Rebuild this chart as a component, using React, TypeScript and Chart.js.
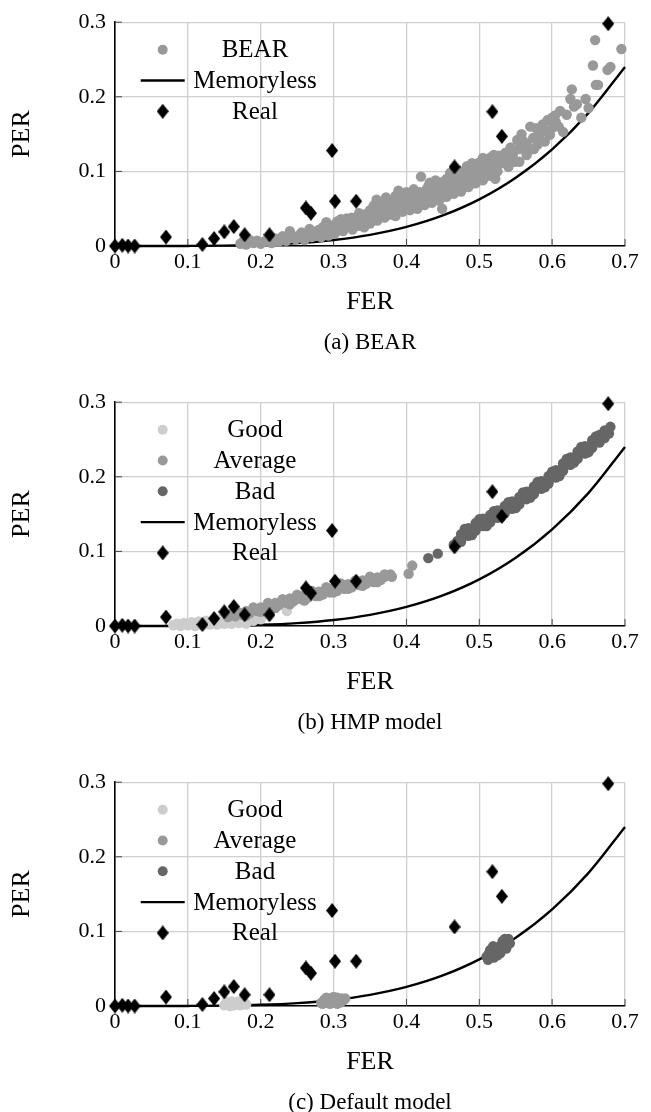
import React, { useEffect, useRef } from "react";
import { Chart, registerables } from "chart.js";

Chart.register(...registerables);

const xTickValues = [0, 0.1, 0.2, 0.3, 0.4, 0.5, 0.6, 0.7];
const yTickValues = [0, 0.1, 0.2, 0.3];

const realFER = [0, 0.01, 0.018, 0.027, 0.07, 0.12, 0.136, 0.15, 0.163, 0.178, 0.212, 0.262, 0.269, 0.298, 0.302, 0.331, 0.466, 0.518, 0.531, 0.677];
const realPER = [0, 0.001, 0, 0, 0.012, 0.002, 0.01, 0.019, 0.026, 0.015, 0.015, 0.051, 0.044, 0.128, 0.06, 0.06, 0.106, 0.18, 0.147, 0.298];

const memFER = [0, 0.05, 0.1, 0.15, 0.2, 0.25, 0.3, 0.35, 0.4, 0.45, 0.5, 0.55, 0.6, 0.65, 0.7];
const memPER = [0, 0, 0.0001, 0.0005, 0.0016, 0.0039, 0.0081, 0.015, 0.0256, 0.041, 0.0625, 0.0915, 0.1296, 0.1785, 0.2401];

const bearFER = [0.172,0.176,0.18,0.185,0.19,0.195,0.2,0.205,0.21,0.215,0.22,0.225,0.23,0.235,0.24,0.243,0.248,0.252,0.256,0.26,0.264,0.267,0.27,0.274,0.277,0.28,0.283,0.286,0.289,0.29,0.293,0.296,0.3,0.302,0.305,0.308,0.31,0.313,0.316,0.318,0.32,0.323,0.326,0.328,0.332,0.335,0.338,0.34,0.342,0.345,0.348,0.35,0.353,0.355,0.357,0.359,0.36,0.363,0.366,0.368,0.37,0.372,0.374,0.376,0.378,0.38,0.382,0.385,0.387,0.389,0.391,0.393,0.395,0.398,0.4,0.403,0.405,0.408,0.41,0.413,0.415,0.418,0.42,0.421,0.424,0.427,0.43,0.432,0.435,0.438,0.44,0.443,0.446,0.449,0.45,0.452,0.455,0.458,0.46,0.462,0.465,0.468,0.47,0.473,0.475,0.478,0.48,0.483,0.486,0.488,0.49,0.493,0.496,0.499,0.502,0.505,0.508,0.51,0.513,0.516,0.519,0.522,0.524,0.527,0.53,0.533,0.536,0.54,0.543,0.546,0.549,0.552,0.555,0.558,0.561,0.565,0.568,0.57,0.574,0.578,0.58,0.584,0.587,0.59,0.594,0.597,0.6,0.604,0.609,0.611,0.625,0.627,0.63,0.634,0.646,0.656,0.659,0.66,0.663,0.676,0.68,0.695,
  0.31,0.325,0.345,0.36,0.37,0.38,0.385,0.395,0.4,0.405,0.41,0.415,0.425,0.43,0.435,0.44,0.445,0.455,0.465,0.47,0.475,0.485,0.495,0.5,0.505,0.515,0.52,0.525,0.54,0.545,0.555,0.56,0.565,0.575,0.58,0.59,0.6,0.605,0.615,0.62,0.64,0.65,0.28,0.295,0.335,0.35,0.365];
const bearPER = [0.003,0.006,0.002,0.008,0.004,0.007,0.003,0.006,0.009,0.004,0.01,0.006,0.013,0.007,0.02,0.011,0.009,0.014,0.018,0.008,0.016,0.023,0.012,0.019,0.014,0.022,0.012,0.026,0.018,0.032,0.014,0.022,0.028,0.017,0.033,0.024,0.036,0.02,0.03,0.037,0.026,0.034,0.022,0.03,0.036,0.027,0.04,0.032,0.025,0.043,0.036,0.03,0.047,0.054,0.04,0.062,0.034,0.05,0.044,0.058,0.038,0.065,0.048,0.055,0.042,0.06,0.052,0.067,0.046,0.074,0.056,0.062,0.05,0.068,0.058,0.064,0.052,0.07,0.06,0.066,0.055,0.072,0.093,0.063,0.068,0.075,0.06,0.085,0.07,0.078,0.066,0.082,0.072,0.05,0.086,0.076,0.09,0.08,0.098,0.074,0.088,0.082,0.095,0.087,0.078,0.1,0.09,0.107,0.096,0.085,0.111,0.1,0.093,0.104,0.097,0.118,0.106,0.112,0.1,0.119,0.108,0.09,0.116,0.121,0.111,0.118,0.125,0.115,0.132,0.122,0.113,0.142,0.13,0.15,0.136,0.137,0.128,0.16,0.145,0.158,0.136,0.152,0.163,0.154,0.169,0.149,0.172,0.175,0.16,0.181,0.197,0.21,0.187,0.19,0.197,0.242,0.276,0.216,0.216,0.236,0.24,0.264,
  0.029,0.038,0.034,0.041,0.05,0.045,0.04,0.046,0.072,0.048,0.076,0.05,0.055,0.08,0.058,0.088,0.061,0.066,0.07,0.102,0.073,0.079,0.084,0.112,0.088,0.094,0.122,0.1,0.106,0.128,0.113,0.141,0.122,0.13,0.148,0.14,0.158,0.166,0.153,0.176,0.172,0.185,0.016,0.02,0.044,0.048,0.055];

const hmpGoodFER = [0.08,0.085,0.09,0.095,0.1,0.105,0.11,0.115,0.12,0.125,0.13,0.135,0.14,0.145,0.15,0.155,0.16,0.165,0.17,0.175,0.18,0.185,0.19,0.2,0.236,0.09,0.11,0.13,0.15,0.17,0.1,0.12,0.14,0.16,0.18];
const hmpGoodPER = [0.001,0.003,0.002,0.004,0.003,0.005,0.002,0.006,0.004,0.007,0.005,0.008,0.006,0.009,0.007,0.004,0.009,0.006,0.011,0.008,0.005,0.01,0.007,0.009,0.02,0,0,0.002,0.003,0.004,0.001,0.001,0.002,0.003,0.003];

const hmpAvgFER = [0.155,0.16,0.165,0.17,0.175,0.18,0.185,0.19,0.195,0.2,0.205,0.21,0.215,0.22,0.225,0.23,0.235,0.24,0.245,0.25,0.255,0.26,0.265,0.27,0.275,0.28,0.285,0.29,0.295,0.3,0.305,0.31,0.315,0.32,0.325,0.33,0.335,0.34,0.345,0.35,0.355,0.36,0.365,0.37,0.378,0.38,0.403,0.408,
  0.18,0.2,0.22,0.24,0.26,0.28,0.3,0.32,0.34,0.36,0.19,0.21,0.23,0.25,0.27,0.29,0.31,0.33,0.35,0.37];
const hmpAvgPER = [0.012,0.016,0.013,0.018,0.015,0.02,0.017,0.022,0.02,0.025,0.022,0.028,0.025,0.031,0.028,0.033,0.031,0.037,0.033,0.039,0.036,0.041,0.038,0.044,0.04,0.046,0.042,0.049,0.045,0.051,0.047,0.053,0.05,0.056,0.052,0.058,0.055,0.061,0.057,0.063,0.059,0.065,0.062,0.066,0.069,0.066,0.07,0.081,
  0.014,0.019,0.024,0.029,0.034,0.04,0.045,0.05,0.054,0.059,0.025,0.031,0.036,0.042,0.047,0.052,0.057,0.061,0.066,0.069];

const hmpBadFER = [0.43,0.443,0.465,0.47,0.475,0.48,0.485,0.49,0.495,0.5,0.505,0.51,0.515,0.52,0.525,0.53,0.535,0.54,0.545,0.55,0.555,0.56,0.565,0.57,0.575,0.58,0.585,0.59,0.595,0.6,0.605,0.61,0.615,0.62,0.625,0.63,0.635,0.64,0.645,0.65,0.655,0.66,0.665,0.67,0.675,0.68,0.678,0.48,0.5,0.52,0.54,0.56,0.58,0.6,0.62,0.64,0.66,0.49,0.51,0.53,0.55,0.57,0.59,0.61,0.63,0.65,
  0.475,0.485,0.495,0.505,0.515,0.525,0.535,0.545,0.555,0.565,0.575,0.585,0.595,0.605,0.615,0.625,0.635,0.645,0.655,0.665,0.672,
  0.475,0.485,0.495,0.505,0.515,0.525,0.535,0.545,0.555,0.565,0.575,0.585,0.595,0.605,0.615,0.625,0.635,0.645,0.655,0.665,0.672];
const hmpBadPER = [0.091,0.097,0.109,0.114,0.118,0.123,0.126,0.129,0.133,0.136,0.139,0.141,0.144,0.147,0.15,0.153,0.156,0.159,0.162,0.165,0.168,0.172,0.175,0.179,0.182,0.186,0.189,0.193,0.196,0.2,0.204,0.208,0.213,0.217,0.221,0.226,0.229,0.233,0.236,0.24,0.244,0.247,0.251,0.255,0.259,0.267,0.258,0.13,0.143,0.154,0.166,0.179,0.193,0.207,0.224,0.24,0.254,0.122,0.134,0.146,0.158,0.172,0.186,0.201,0.219,0.233,
  0.123,0.131,0.138,0.144,0.149,0.155,0.161,0.167,0.173,0.18,0.187,0.194,0.201,0.209,0.218,0.226,0.234,0.241,0.249,0.256,0.262,
  0.113,0.121,0.128,0.134,0.139,0.145,0.151,0.157,0.163,0.17,0.177,0.184,0.191,0.199,0.208,0.216,0.224,0.231,0.239,0.246,0.252];

const defGoodFER = [0.15,0.155,0.158,0.162,0.165,0.168,0.172,0.175,0.178,0.16,0.17,0.153,0.163,0.173,0.18];
const defGoodPER = [0.001,0.003,0,0.004,0.002,0.005,0.001,0.003,0.004,0.006,0.006,0.005,0.001,0.005,0.002];

const defAvgFER = [0.283,0.287,0.29,0.293,0.296,0.299,0.302,0.305,0.308,0.311,0.314,0.295,0.305,0.285,0.29,0.3,0.31,0.316];
const defAvgPER = [0.004,0.008,0.005,0.01,0.006,0.009,0.005,0.011,0.007,0.01,0.008,0.003,0.003,0.003,0.011,0.012,0.005,0.01];

const defBadFER = [0.51,0.513,0.516,0.518,0.521,0.523,0.526,0.528,0.531,0.533,0.535,0.538,0.54,0.537,0.515,0.525,0.532,0.512,0.52,0.529,0.542,0.535,0.519];
const defBadPER = [0.066,0.07,0.068,0.074,0.071,0.077,0.074,0.08,0.077,0.083,0.08,0.086,0.09,0.077,0.075,0.068,0.087,0.062,0.065,0.071,0.084,0.09,0.08];

const COLOR_BEAR = "#999999";
const COLOR_GOOD = "#cdcdcd";
const COLOR_AVG = "#999999";
const COLOR_BAD = "#666666";

const FONT = "'Liberation Serif', 'Times New Roman', serif";

function pts(xs: number[], ys: number[]) {
  return xs.map((x, i) => ({ x, y: ys[i] }));
}

function makeDiamond(): HTMLCanvasElement {
  const c = document.createElement("canvas");
  c.width = 12;
  c.height = 15;
  const g = c.getContext("2d")!;
  g.fillStyle = "#000";
  g.beginPath();
  g.moveTo(6, 0);
  g.lineTo(12, 7.5);
  g.lineTo(6, 15);
  g.lineTo(0, 7.5);
  g.closePath();
  g.fill();
  return c;
}

type LegendItem = { label: string; kind: "circle" | "line" | "diamond"; color: string };
type Group = { label: string; fer: number[]; per: number[]; color: string; order: number };
type PanelSpec = { caption: string; groups: Group[] };

const panels: PanelSpec[] = [
  {
    caption: "(a) BEAR",
    groups: [{ label: "BEAR", fer: bearFER, per: bearPER, color: COLOR_BEAR, order: 2 }],
  },
  {
    caption: "(b) HMP model",
    groups: [
      { label: "Good", fer: hmpGoodFER, per: hmpGoodPER, color: COLOR_GOOD, order: 4 },
      { label: "Average", fer: hmpAvgFER, per: hmpAvgPER, color: COLOR_AVG, order: 3 },
      { label: "Bad", fer: hmpBadFER, per: hmpBadPER, color: COLOR_BAD, order: 2 },
    ],
  },
  {
    caption: "(c) Default model",
    groups: [
      { label: "Good", fer: defGoodFER, per: defGoodPER, color: COLOR_GOOD, order: 4 },
      { label: "Average", fer: defAvgFER, per: defAvgPER, color: COLOR_AVG, order: 3 },
      { label: "Bad", fer: defBadFER, per: defBadPER, color: COLOR_BAD, order: 2 },
    ],
  },
];

function Panel({ spec, top }: { spec: PanelSpec; top: number }) {
  const ref = useRef<HTMLCanvasElement | null>(null);

  useEffect(() => {
    const canvas = ref.current;
    if (!canvas) return;
    const diamond = makeDiamond();

    const legendItems: LegendItem[] = [
      ...spec.groups.map((g) => ({ label: g.label, kind: "circle" as const, color: g.color })),
      { label: "Memoryless", kind: "line", color: "#000" },
      { label: "Real", kind: "diamond", color: "#000" },
    ];

    const datasets: any[] = [
      {
        label: "Real",
        data: pts(realFER, realPER),
        pointStyle: diamond,
        pointRadius: 6,
        backgroundColor: "#000",
        borderWidth: 0,
        clip: false,
        order: 0,
      },
      ...spec.groups.map((g) => ({
        label: g.label,
        data: pts(g.fer, g.per),
        pointStyle: "circle",
        pointRadius: 5.2,
        backgroundColor: g.color,
        borderWidth: 0,
        clip: false,
        order: g.order,
      })),
      {
        label: "Memoryless",
        data: pts(memFER, memPER),
        showLine: true,
        pointRadius: 0,
        borderColor: "#000",
        borderWidth: 2.4,
        cubicInterpolationMode: "monotone",
        clip: false,
        order: 10,
      },
    ];

    const innerTicks = {
      id: "innerTicks",
      beforeDatasetsDraw(chart: any) {
        const { ctx, chartArea, scales } = chart;
        ctx.save();
        ctx.strokeStyle = "#444";
        ctx.lineWidth = 1;
        xTickValues.forEach((v) => {
          const px = scales.x.getPixelForValue(v);
          ctx.beginPath();
          ctx.moveTo(px, chartArea.bottom);
          ctx.lineTo(px, chartArea.bottom - 7);
          ctx.stroke();
        });
        yTickValues.forEach((v) => {
          const py = scales.y.getPixelForValue(v);
          ctx.beginPath();
          ctx.moveTo(chartArea.left, py);
          ctx.lineTo(chartArea.left + 7, py);
          ctx.stroke();
        });
        ctx.restore();
      },
    };

    const customLegend = {
      id: "customLegend",
      afterDatasetsDraw(chart: any) {
        const { ctx, chartArea } = chart;
        ctx.save();
        const mx = chartArea.left + 47.7;
        const tx = chartArea.left + 140;
        legendItems.forEach((it, i) => {
          const y = chartArea.top + 27.5 + i * 30.8;
          if (it.kind === "circle") {
            ctx.fillStyle = it.color;
            ctx.beginPath();
            ctx.arc(mx, y, 5, 0, Math.PI * 2);
            ctx.fill();
          } else if (it.kind === "line") {
            ctx.strokeStyle = "#000";
            ctx.lineWidth = 2.4;
            ctx.beginPath();
            ctx.moveTo(mx - 22, y);
            ctx.lineTo(mx + 22, y);
            ctx.stroke();
          } else {
            ctx.drawImage(diamond, mx - 6, y - 7.5);
          }
          ctx.fillStyle = "#000";
          ctx.font = `25px ${FONT}`;
          ctx.textAlign = "center";
          ctx.textBaseline = "middle";
          ctx.fillText(it.label, tx, y + 1);
        });
        ctx.restore();
      },
    };

    const chart = new Chart(canvas, {
      type: "scatter",
      data: { datasets },
      plugins: [innerTicks, customLegend],
      options: {
        animation: false,
        responsive: false,
        devicePixelRatio: 1,
        layout: { padding: { left: 0, right: 26, top: 19, bottom: 62 } },
        plugins: { legend: { display: false }, tooltip: { enabled: false } },
        scales: {
          x: {
            type: "linear",
            min: 0,
            max: 0.7,
            afterBuildTicks: (s: any) => {
              s.ticks = xTickValues.map((v) => ({ value: v }));
            },
            afterFit: (s: any) => {
              s.height = 72;
            },
            ticks: {
              autoSkip: false,
              maxRotation: 0,
              padding: 3,
              color: "#000",
              font: { family: FONT, size: 22 },
              callback: (v: any) => String(v),
            },
            grid: { color: "#cfcfcf", lineWidth: 1.3, drawTicks: false },
            border: { color: "#000", width: 1.6 },
            title: {
              display: true,
              text: "FER",
              color: "#000",
              font: { family: FONT, size: 26, lineHeight: 1.2 },
              padding: { top: 0, bottom: 0 },
            },
          },
          y: {
            type: "linear",
            min: 0,
            max: 0.3,
            afterBuildTicks: (s: any) => {
              s.ticks = yTickValues.map((v) => ({ value: v }));
            },
            afterFit: (s: any) => {
              s.width = 115;
            },
            ticks: {
              padding: 9,
              color: "#000",
              font: { family: FONT, size: 22 },
              callback: (v: any) => String(v),
            },
            grid: { color: "#cfcfcf", lineWidth: 1.3, drawTicks: false },
            border: { color: "#000", width: 1.6 },
            title: {
              display: true,
              text: "PER",
              color: "#000",
              font: { family: FONT, size: 26, lineHeight: 1.2 },
              padding: { top: 7, bottom: 0 },
            },
          },
        },
      } as any,
    });

    return () => {
      chart.destroy();
    };
  }, [spec]);

  return (
    <div style={{ position: "absolute", left: 0, top, width: 651, height: 380 }}>
      <canvas ref={ref} width={651} height={380} style={{ display: "block", width: 651, height: 380 }} />
      <div
        style={{
          position: "absolute",
          left: 0,
          top: 328,
          width: 740,
          textAlign: "center",
          fontFamily: FONT,
          fontSize: 23,
          lineHeight: "28px",
          color: "#000",
        }}
      >
        {spec.caption}
      </div>
    </div>
  );
}

export default function App() {
  return (
    <div style={{ position: "absolute", left: 0, top: 0, width: 651, height: 1112, background: "#fff" }}>
      {panels.map((p, i) => (
        <Panel key={i} spec={p} top={i * 380} />
      ))}
    </div>
  );
}
